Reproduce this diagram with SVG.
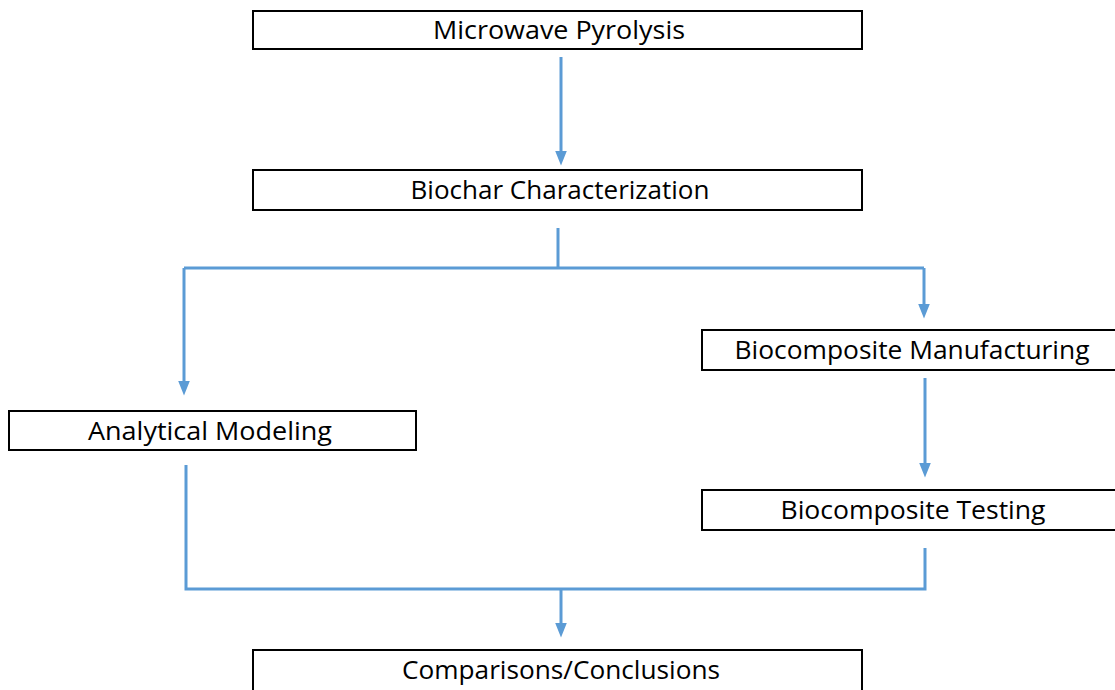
<svg xmlns="http://www.w3.org/2000/svg" width="1115" height="690" viewBox="0 0 1115 690">
<defs>
<style>
.box{fill:#fff;stroke:#000;stroke-width:2}
.lbl{font-family:"Open Sans","Liberation Sans",sans-serif;font-size:25px;fill:#000;text-anchor:middle;dominant-baseline:central}
.c{fill:none;stroke:#5B9BD5;stroke-width:3}
</style>
<marker id="ah" markerWidth="5" markerHeight="5" refX="2.5" refY="2.5" orient="auto" markerUnits="strokeWidth" viewBox="0 0 5 5">
<path d="M0,0.5 L5,2.5 L0,4.5 Z" fill="#5B9BD5"/>
</marker>
</defs>
<rect width="1115" height="690" fill="#fff"/>
<g id="connectors">
<path class="c" d="M561,57 V158" marker-end="url(#ah)"/>
<path class="c" d="M558,228 V268"/>
<path class="c" d="M184,268 H924"/>
<path class="c" d="M184,268 V388" marker-end="url(#ah)"/>
<path class="c" d="M924,268 V311" marker-end="url(#ah)"/>
<path class="c" d="M925,378 V470" marker-end="url(#ah)"/>
<path class="c" d="M186,465 V589 H925 V548"/>
<path class="c" d="M561,589 V630" marker-end="url(#ah)"/>
</g>
<g id="n1"><rect class="box" x="253" y="11" width="609" height="38"/><text class="lbl" x="559" y="29" textLength="252" lengthAdjust="spacingAndGlyphs">Microwave Pyrolysis</text></g>
<g id="n2"><rect class="box" x="253" y="170" width="609" height="40"/><text class="lbl" x="560" y="189" textLength="299" lengthAdjust="spacingAndGlyphs">Biochar Characterization</text></g>
<g id="n3"><rect class="box" x="9" y="411" width="407" height="39"/><text class="lbl" x="210" y="430" textLength="244" lengthAdjust="spacingAndGlyphs">Analytical Modeling</text></g>
<g id="n4"><rect class="box" x="702" y="330" width="420" height="40"/><text class="lbl" x="912" y="349" textLength="355" lengthAdjust="spacingAndGlyphs">Biocomposite Manufacturing</text></g>
<g id="n5"><rect class="box" x="702" y="490" width="420" height="40"/><text class="lbl" x="913" y="509" textLength="265" lengthAdjust="spacingAndGlyphs">Biocomposite Testing</text></g>
<g id="n6"><rect class="box" x="253" y="650" width="609" height="48"/><text class="lbl" x="561" y="669" textLength="318" lengthAdjust="spacingAndGlyphs">Comparisons/Conclusions</text></g>
</svg>
